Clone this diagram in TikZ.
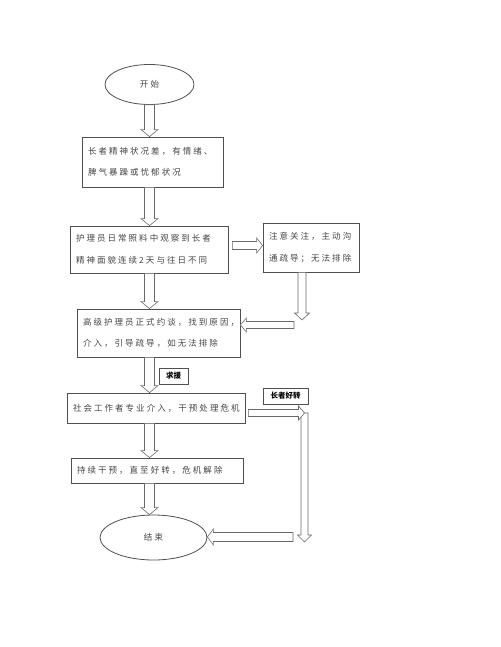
\documentclass[tikz,border=0pt]{standalone}
\usepackage{fontspec}
\usepackage{tikz}
\usetikzlibrary{calc,shapes.geometric}
\newfontfamily\cjk[LetterSpace=24]{Noto Sans CJK SC}
\newfontfamily\cjktag{Noto Sans CJK SC}
\definecolor{fcedge}{RGB}{80,80,80}
\definecolor{fcink}{RGB}{70,70,70}
\definecolor{fcarrow}{RGB}{105,105,105}
\tikzset{
  fcbox/.style={
    draw=fcedge, line width=0.8pt, align=left,
    inner xsep=6pt, inner ysep=0pt, text=fcink,
    font=\fontsize{8.5}{21.5}\cjk
  },
  term/.style={ellipse, draw=fcedge, line width=0.8pt, inner sep=0pt,
    text=fcink, font=\fontsize{8.5}{10}\cjk},
  tag/.style={draw=fcedge, line width=0.8pt, inner sep=0pt,
    font=\fontsize{7.5}{9}\cjktag\bfseries},
  blockarr/.style={draw=fcarrow, line width=0.6pt, fill=white, line join=miter}
}
% hollow block arrows: x from the first point, tip at the second
\newcommand{\vblock}[3][5]{%
  \draw[blockarr] let \p1=(#2), \p2=(#3), \n1={sign(\y2-\y1)} in
    ({\x1-#1pt},\y1) -- ({\x1-#1pt},{\y2-\n1*7pt}) -- ({\x1-#1pt-3.5pt},{\y2-\n1*7pt})
    -- (\x1,\y2) -- ({\x1+#1pt+3.5pt},{\y2-\n1*7pt}) -- ({\x1+#1pt},{\y2-\n1*7pt})
    -- ({\x1+#1pt},\y1) -- cycle;}
\newcommand{\hblock}[3][4]{%
  \draw[blockarr] let \p1=(#2), \p2=(#3), \n1={sign(\x2-\x1)} in
    (\x1,{\y1-#1pt}) -- ({\x2-\n1*6pt},{\y1-#1pt}) -- ({\x2-\n1*6pt},{\y1-#1pt-3.5pt})
    -- (\x2,\y1) -- ({\x2-\n1*6pt},{\y1+#1pt+3.5pt}) -- ({\x2-\n1*6pt},{\y1+#1pt})
    -- (\x1,{\y1+#1pt}) -- cycle;}

\begin{document}
\begin{tikzpicture}[x=1pt,y=-1pt]
  \fill[white] (0,0) rectangle (500,647);
  \useasboundingbox (0,0) rectangle (500,647);

  \node[term, minimum width=89pt, minimum height=40pt] (start) at (149.5,84.5) {开始};
  \node[fcbox, text width=129pt, minimum height=50pt] (cond) at (152.5,162)
    {长者精神状况差，有情绪、\\脾气暴躁或忧郁状况};
  \node[fcbox, text width=146pt, minimum height=47pt] (watch) at (149,249.5)
    {护理员日常照料中观察到长者\\精神面貌连续2天与往日不同};
  \node[fcbox, text width=84pt, minimum height=49pt] (notice) at (311,247.5)
    {注意关注，主动沟\\通疏导；无法排除};
  \node[fcbox, text width=151pt, minimum height=48pt] (talk) at (158.5,333)
    {高级护理员正式约谈，找到原因，\\介入，引导疏导，如无法排除};
  \node[tag, minimum width=29pt, minimum height=16pt] (help) at (173.5,376) {求援};
  \node[fcbox, text width=166pt, minimum height=30pt] (crisis) at (156,408)
    {社会工作者专业介入，干预处理危机};
  \node[tag, minimum width=45pt, minimum height=16pt] (better) at (285.5,396) {长者好转};
  \node[fcbox, text width=160pt, minimum height=25pt] (relief) at (157,470.5)
    {持续干预，直至好转，危机解除};
  \node[term, minimum width=107pt, minimum height=45pt] (finish) at (153.5,537.5) {结束};

  \coordinate (sidedrop) at (302,320);
  \coordinate (backin) at (294,325);
  \coordinate (turn) at (304.5,413);
  \coordinate (drop) at (304.5,542);
  \coordinate (backend) at (293,537);

  % main line
  \vblock{start.south}{cond.north}
  \vblock{cond.south -| start.south}{watch.north}
  \vblock{watch.south -| start.south}{talk.north}
  \vblock{talk.south -| start.south}{crisis.north}
  \vblock{crisis.south -| start.south}{relief.north}
  \vblock{relief.south -| start.south}{finish.north}

  % side loops
  \hblock{$(watch.east)+(4,-4)$}{notice.west}
  \vblock[4]{$(notice.south)+(-9,0)$}{sidedrop}
  \hblock[3.5]{backin}{talk.east}
  \vblock[3.5]{turn}{drop}
  \hblock[3.5]{$(crisis.east)+(3,5)$}{turn}
  \hblock[4.5]{backend}{finish.east}
\end{tikzpicture}
\end{document}
